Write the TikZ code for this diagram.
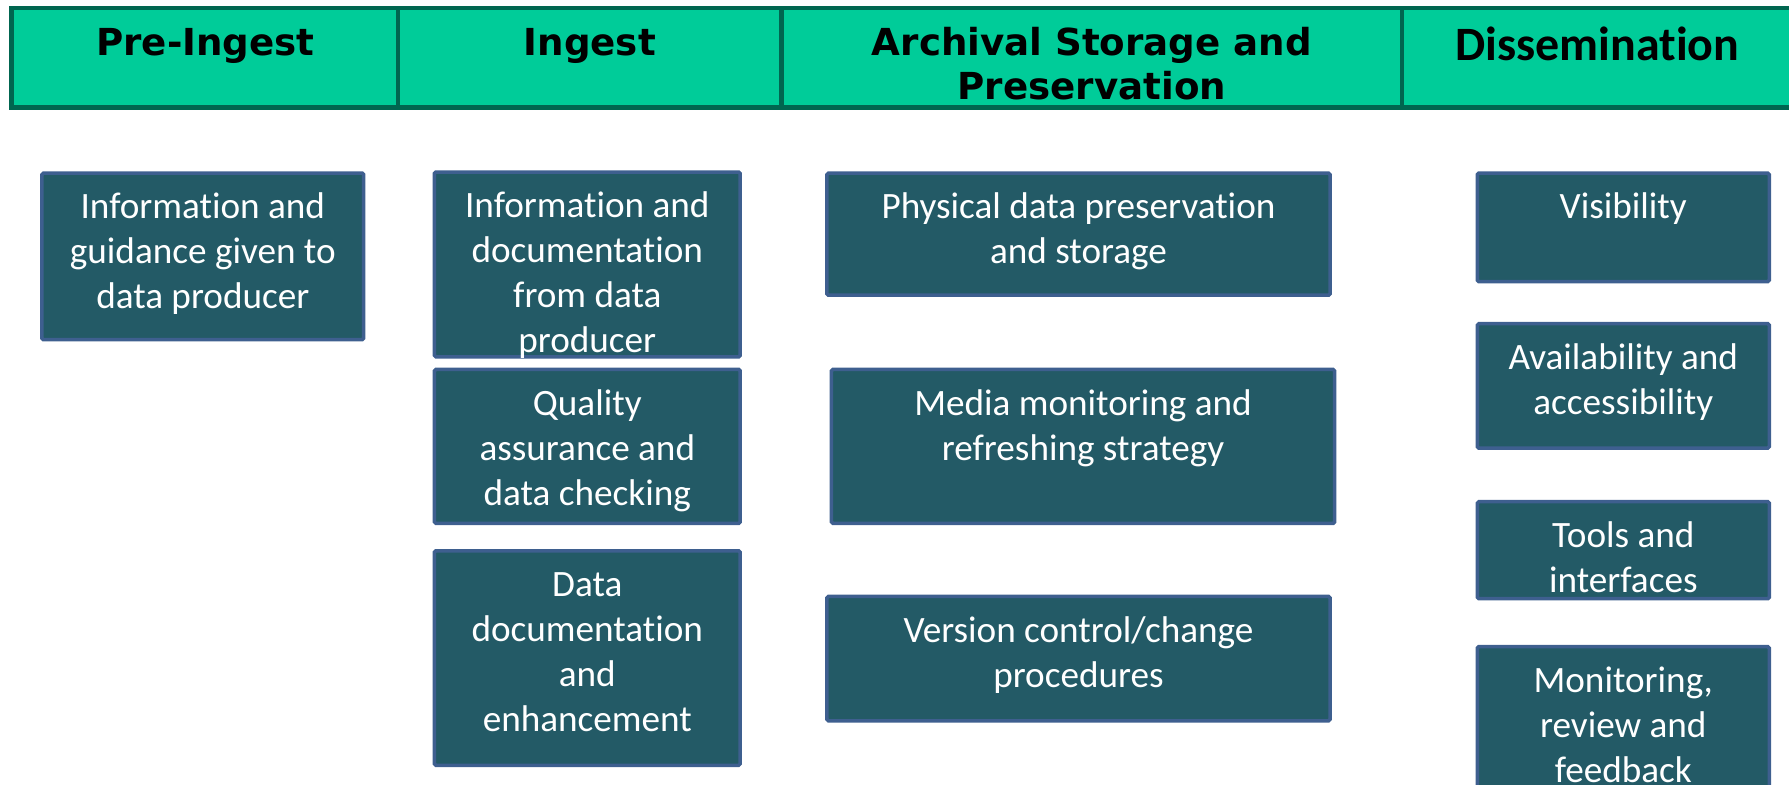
\documentclass[tikz,border=0pt]{standalone}
\usepackage{fontspec}
\setmainfont[Ligatures=NoCommon]{Carlito}
\newfontfamily\hdfont{DejaVu Sans}
\definecolor{hdrfill}{HTML}{00CC99}
\definecolor{hdrline}{HTML}{006650}
\definecolor{boxfill}{HTML}{235A66}
\definecolor{boxline}{HTML}{3E5F8F}
\newcommand{\boxtext}[3]{\parbox[t][#2pt][t]{#1pt}{\centering\fontsize{32.6}{39.5}\selectfont\vspace*{12.35pt}\strut #3}}
\begin{document}
\begin{tikzpicture}[x=1pt,y=-1pt,scale=1.14094,transform shape,
  hdr/.style={font=\hdfont\bfseries\fontsize{32.6}{38}\selectfont, anchor=base, inner sep=0pt},
  hdrb/.style={font=\bfseries\fontsize{42}{46}\selectfont, anchor=base, inner sep=0pt},
  box/.style={draw=boxline, line width=3.5pt, fill=boxfill, rounded corners=1.5pt, inner sep=0pt, anchor=north west, text=white}]
\useasboundingbox (0,0) rectangle (1568,688);
% header bar
\fill[hdrfill] (10,7) rectangle (1600,94);
\draw[hdrline, line width=4.5pt] (1600,7) -- (10,7) -- (10,94) -- (1600,94);
\draw[hdrline, line width=4.5pt] (349,7) -- (349,94) (685,7) -- (685,94) (1229,7) -- (1229,94);
\node[hdr] (hpre) at (180,49) {Pre-Ingest};
\node[hdr] (hing) at (517,49) {Ingest};
\node[hdr] (harc) at (957,49) {\parbox[t]{500pt}{\centering Archival Storage and\\Preservation}};
\node[hdrb] (hdis) at (1400,53) {Dissemination};
% boxes
\node[box] (b1) at (35,150) {\boxtext{282}{146}{Information and\\guidance given to\\data producer}};
\node[box] (b2) at (379,149) {\boxtext{268}{162}{Information and\\documentation\\from data\\producer}};
\node[box] (b3) at (379,322) {\boxtext{268}{135}{Quality\\assurance and\\data checking}};
\node[box] (b4) at (379,481) {\boxtext{268}{188}{Data\\documentation\\and\\enhancement}};
\node[box] (b5) at (723,150) {\boxtext{441}{107}{Physical data preservation\\and storage}};
\node[box] (b6) at (727,322) {\boxtext{441}{135}{Media monitoring and\\refreshing strategy}};
\node[box] (b7) at (723,521) {\boxtext{441}{109}{Version control/change\\procedures}};
\node[box] (b8) at (1293,150) {\boxtext{256}{95}{Visibility}};
\node[box] (b9) at (1293,282) {\boxtext{256}{109}{Availability and\\accessibility}};
\node[box] (b10) at (1293,438) {\boxtext{256}{85}{Tools and\\interfaces}};
\node[box] (b11) at (1293,565) {\boxtext{256}{160}{Monitoring,\\review and\\feedback}};
\end{tikzpicture}
\end{document}
